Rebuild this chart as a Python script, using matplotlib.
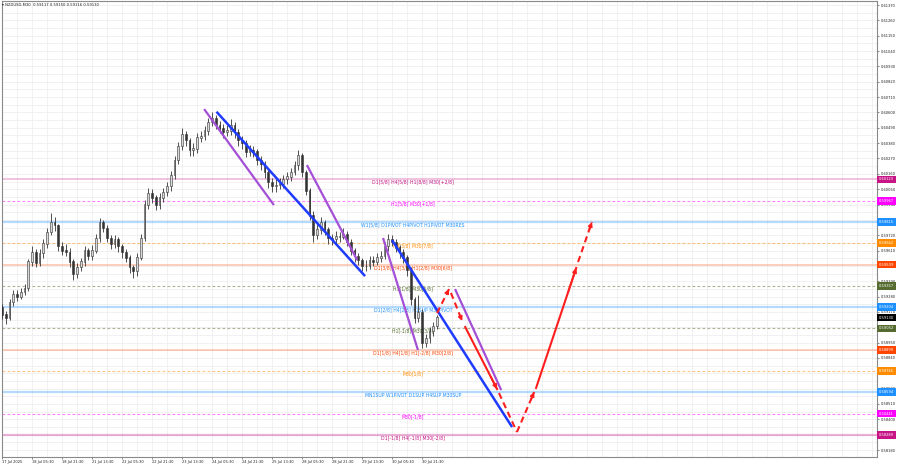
import matplotlib
matplotlib.use('Agg')
import matplotlib.pyplot as plt
import matplotlib.transforms as mtransforms
import numpy as np

# NZDUSD M30, resampled to 2h candles (index k, 4 x M30 bars each)
first_open = 0.5920
closes = [0.5915, 0.5913, 0.5924, 0.5930, 0.5928, 0.5931, 0.5934, 0.5953, 0.5960, 0.5952,
          0.5959, 0.5966, 0.5974, 0.5981, 0.5979, 0.5964, 0.5961, 0.5960, 0.5953, 0.5944,
          0.5949, 0.5953, 0.5961, 0.5957, 0.5961, 0.5970, 0.5981, 0.5977, 0.5970, 0.5966,
          0.5969, 0.5964, 0.5960, 0.5956, 0.5949, 0.5946, 0.5956, 0.5970, 0.5994, 0.6002,
          0.5999, 0.5994, 0.5999, 0.6003, 0.6007, 0.6015, 0.6026, 0.6036, 0.6044, 0.6040,
          0.6033, 0.6034, 0.6042, 0.6043, 0.6047, 0.6053, 0.6056, 0.6051, 0.6049, 0.6046,
          0.6047, 0.6051, 0.6046, 0.6040, 0.6038, 0.6032, 0.6033, 0.6032, 0.6026, 0.6023,
          0.6017, 0.6010, 0.6007, 0.6008, 0.6009, 0.6012, 0.6014, 0.6017, 0.6022, 0.6029,
          0.6017, 0.6004, 0.5986, 0.5972, 0.5976, 0.5981, 0.5976, 0.5970, 0.5969, 0.5971,
          0.5971, 0.5973, 0.5967, 0.5961, 0.5957, 0.5954, 0.5950, 0.5950, 0.5954, 0.5953,
          0.5956, 0.5957, 0.5964, 0.5969, 0.5967, 0.5963, 0.5960, 0.5956, 0.5947, 0.5926,
          0.5913, 0.5917, 0.5895, 0.5898, 0.5903, 0.5907, 0.5913]
highs = [0.5923, 0.5918, 0.5926, 0.5933, 0.5933, 0.5934, 0.5937, 0.5955, 0.5964, 0.5962,
         0.5962, 0.5969, 0.5977, 0.5988, 0.5985, 0.5980, 0.5967, 0.5966, 0.5963, 0.5955,
         0.5952, 0.5956, 0.5964, 0.5963, 0.5965, 0.5973, 0.5984, 0.5983, 0.5979, 0.5972,
         0.5972, 0.5971, 0.5966, 0.5962, 0.5958, 0.5951, 0.5959, 0.5973, 0.5997, 0.6006,
         0.6005, 0.6001, 0.6002, 0.6006, 0.6010, 0.6018, 0.6029, 0.6039, 0.6049, 0.6047,
         0.6042, 0.6038, 0.6045, 0.6047, 0.6050, 0.6056, 0.6060, 0.6058, 0.6054, 0.6052,
         0.6051, 0.6055, 0.6053, 0.6048, 0.6043, 0.6040, 0.6037, 0.6036, 0.6034, 0.6029,
         0.6025, 0.6019, 0.6013, 0.6012, 0.6013, 0.6015, 0.6017, 0.6020, 0.6025, 0.6033,
         0.6031, 0.6019, 0.6006, 0.5989, 0.5980, 0.5985, 0.5983, 0.5978, 0.5973, 0.5975,
         0.5974, 0.5977, 0.5975, 0.5969, 0.5963, 0.5959, 0.5956, 0.5954, 0.5957, 0.5957,
         0.5959, 0.5961, 0.5967, 0.5973, 0.5972, 0.5969, 0.5965, 0.5962, 0.5958, 0.5949,
         0.5928, 0.5929, 0.5919, 0.5901, 0.5906, 0.5910, 0.5915]
lows = [0.5912, 0.5908, 0.5911, 0.5921, 0.5925, 0.5926, 0.5929, 0.5932, 0.5950, 0.5949,
        0.5950, 0.5956, 0.5963, 0.5972, 0.5975, 0.5961, 0.5958, 0.5957, 0.5949, 0.5940,
        0.5941, 0.5946, 0.5950, 0.5954, 0.5954, 0.5959, 0.5967, 0.5974, 0.5967, 0.5962,
        0.5963, 0.5960, 0.5956, 0.5953, 0.5945, 0.5941, 0.5943, 0.5954, 0.5968, 0.5991,
        0.5995, 0.5990, 0.5991, 0.5996, 0.6000, 0.6004, 0.6012, 0.6023, 0.6033, 0.6036,
        0.6029, 0.6029, 0.6031, 0.6039, 0.6040, 0.6044, 0.6050, 0.6048, 0.6045, 0.6042,
        0.6043, 0.6044, 0.6042, 0.6036, 0.6034, 0.6028, 0.6029, 0.6028, 0.6022, 0.6019,
        0.6013, 0.6006, 0.6003, 0.6003, 0.6005, 0.6006, 0.6009, 0.6011, 0.6015, 0.6019,
        0.6014, 0.6001, 0.5983, 0.5967, 0.5969, 0.5973, 0.5972, 0.5966, 0.5965, 0.5966,
        0.5967, 0.5969, 0.5964, 0.5958, 0.5953, 0.5951, 0.5946, 0.5946, 0.5948, 0.5950,
        0.5951, 0.5953, 0.5955, 0.5961, 0.5964, 0.5960, 0.5956, 0.5952, 0.5943, 0.5922,
        0.5909, 0.5910, 0.5891, 0.5892, 0.5895, 0.5900, 0.5905]

time_labels = ['17 Jul 2025', '18 Jul 05:30', '18 Jul 21:30', '21 Jul 13:30', '22 Jul 05:30',
               '22 Jul 21:30', '23 Jul 13:30', '24 Jul 05:30', '24 Jul 21:30', '25 Jul 13:30',
               '28 Jul 05:30', '28 Jul 21:30', '29 Jul 13:30', '30 Jul 05:30', '30 Jul 21:30']
price_ticks = [0.61370, 0.61260, 0.61150, 0.61040, 0.60930, 0.60820, 0.60710, 0.60600,
               0.60490, 0.60380, 0.60270, 0.60160, 0.60050, 0.59940, 0.59830, 0.59720,
               0.59610, 0.59500, 0.59390, 0.59280, 0.59170, 0.59060, 0.58950, 0.58840,
               0.58730, 0.58620, 0.58510, 0.58400, 0.58290, 0.58180]

# murrey / pivot levels
levels = [0.60120, 0.59967, 0.59815, 0.59662, 0.59509, 0.59357, 0.59204,
          0.59052, 0.58899, 0.58746, 0.58594, 0.58441, 0.58289]
level_names = ['D1[5/8] H4[5/8] H1[8/8] M30[+2/8]', 'H1[5/8] M30[+1/8]',
               'W1[5/8] D1PIVOT H4PIVOT H1PIVOT M30RES', 'H4[3/8] M30[7/8]',
               'D1[3/8] H4[3/8] H1[2/8] M30[6/8]', 'H1[1/8] M30[5/8]',
               'D1[2/8] H4[2/8] H1SUP M30PIVOT', 'H1[-1/8] M30[3/8]',
               'D1[1/8] H4[1/8] H1[-2/8] M30[2/8]', 'M30[1/8]',
               'MN1SUP W1PIVOT D1SUP H4SUP M30SUP', 'M30[-1/8]',
               'D1[-1/8] H4[-1/8] M30[-2/8]']
level_colors = ['#C71585', '#FF00FF', '#1E90FF', '#FF8C00', '#FF4500', '#556B2F', '#1E90FF',
                '#556B2F', '#FF4500', '#FF8C00', '#1E90FF', '#FF00FF', '#C71585']
level_solid = [True, False, True, False, True, False, True, False, True, False, True, False, True]
last_price = 0.59130

# drawn objects: (k0, p0, k1, p1)
blue_lines = [(57.2, 0.60605, 96.8, 0.59427), (104.0, 0.59685, 136.0, 0.58345)]
purple_lines = [(53.9, 0.60624, 72.5, 0.59936), (81.3, 0.60223, 94.7, 0.59542),
                (101.6, 0.59700, 110.9, 0.58897), (120.8, 0.59334, 133.1, 0.58610)]
# (k0, p0, k1, p1, dashed, arrowhead)
red_arrows = [(116.0, 0.59162, 119.2, 0.59334, True, True),
              (119.7, 0.59306, 122.7, 0.59105, True, True),
              (123.5, 0.59062, 132.0, 0.58617, False, True),
              (132.5, 0.58589, 137.3, 0.58309, True, False),
              (137.3, 0.58309, 141.9, 0.58596, True, True),
              (142.4, 0.58625, 153.1, 0.59485, False, True),
              (153.6, 0.59528, 157.3, 0.59815, True, True)]

fig = plt.figure(figsize=(8.99, 4.67), dpi=100)
ax = fig.add_axes([1.7 / 899, 10 / 467, 875.3 / 899, 456 / 467])
ax.set_xlim(-0.08, 233.3)
ax.set_ylim(0.58130, 0.61399)

# grid
for gx in np.arange(0, 234, 4):
    ax.axvline(gx, color='#efefef', lw=0.6, zorder=0)
for gy in np.arange(0.58180, 0.61400, 0.00055):
    ax.axhline(gy, color='#efefef', lw=0.6, zorder=0)

# level lines and labels
for lv, name, col, solid in zip(levels, level_names, level_colors, level_solid):
    if solid:
        lw = 1.6 if col == '#1E90FF' or lv == levels[-1] else 1.1
        ax.axhline(lv, color=col, lw=lw, alpha=0.33, zorder=1)
    else:
        ax.axhline(lv, color=col, lw=0.8, alpha=0.5, ls=(0, (2.5, 2)), zorder=1)
    ax.annotate(name, (109.6, lv), xytext=(0, -2.0), textcoords='offset points',
                ha='center', va='center', fontsize=3.3, color=col, zorder=2)

# candles
opens = [first_open] + closes[:-1]
k = np.arange(len(closes))
o = np.array(opens)
c = np.array(closes)
ax.vlines(k, lows, highs, color='#333333', lw=0.6, zorder=3)
body_col = np.where(c >= o, '#d8d8d8', '#333333')
ax.bar(k, np.abs(c - o) + 0.00002, bottom=np.minimum(o, c), width=0.45,
       color=body_col, edgecolor='#333333', lw=0.4, zorder=4)

# trend lines
for k0, p0, k1, p1 in blue_lines:
    ax.plot([k0, k1], [p0, p1], color='#1f3bff', lw=1.8, zorder=5, solid_capstyle='butt')
for k0, p0, k1, p1 in purple_lines:
    ax.plot([k0, k1], [p0, p1], color='#a44fd6', lw=1.6, zorder=5, solid_capstyle='butt')

red = '#ff1e1e'
for k0, p0, k1, p1, dashed, head in red_arrows:
    ax.plot([k0, k1], [p0, p1], color=red, lw=1.5, ls=(0, (3, 2)) if dashed else '-', zorder=6)
    if head:
        ax.annotate('', xy=(k1, p1), xytext=(k1 - (k1 - k0) * 0.2, p1 - (p1 - p0) * 0.2),
                    arrowprops=dict(arrowstyle='-|>', color=red, lw=1.2, mutation_scale=6,
                                    shrinkA=0, shrinkB=0), zorder=6)

# axes styling; tick labels hidden under a price box are left blank
boxed = levels + [last_price]
tick_text = ['' if min(abs(p - b) for b in boxed) < 0.00025 else '%.5f' % p for p in price_ticks]
ax.yaxis.tick_right()
ax.set_yticks(price_ticks)
ax.set_yticklabels(tick_text, fontsize=2.6, color='#222')
ax.tick_params(axis='y', length=1.5, pad=1.2, width=0.5, colors='#555', labelcolor='#222')
ax.set_xticks(np.arange(0, 8 * len(time_labels), 8))
ax.set_xticklabels(time_labels, fontsize=2.6, ha='left', color='#222')
ax.tick_params(axis='x', length=1.5, pad=1.0, width=0.5, colors='#555', labelcolor='#222')
for s in ax.spines.values():
    s.set_color('#8a8a8a')
    s.set_linewidth(0.8)

# right side price boxes
trans = mtransforms.blended_transform_factory(ax.transAxes, ax.transData)
for lv, col in zip(levels, level_colors):
    ax.text(1.0025, lv, '%.5f' % lv, transform=trans, fontsize=2.6, color='white',
            ha='left', va='center', clip_on=False, zorder=10,
            bbox=dict(boxstyle='square,pad=0.5', fc=col, ec='none'))
ax.text(1.0025, last_price, '%.5f' % last_price, transform=trans, fontsize=2.6, color='white',
        ha='left', va='center', clip_on=False, zorder=10,
        bbox=dict(boxstyle='square,pad=0.5', fc='black', ec='none'))

fig.text(2 / 899, 1 - 4.5 / 467, '▾ NZDUSD,M30  0.59117 0.59150 0.59116 0.59130',
         fontsize=2.7, va='center', ha='left', color='#222')

fig.savefig('out.png', dpi=100)
